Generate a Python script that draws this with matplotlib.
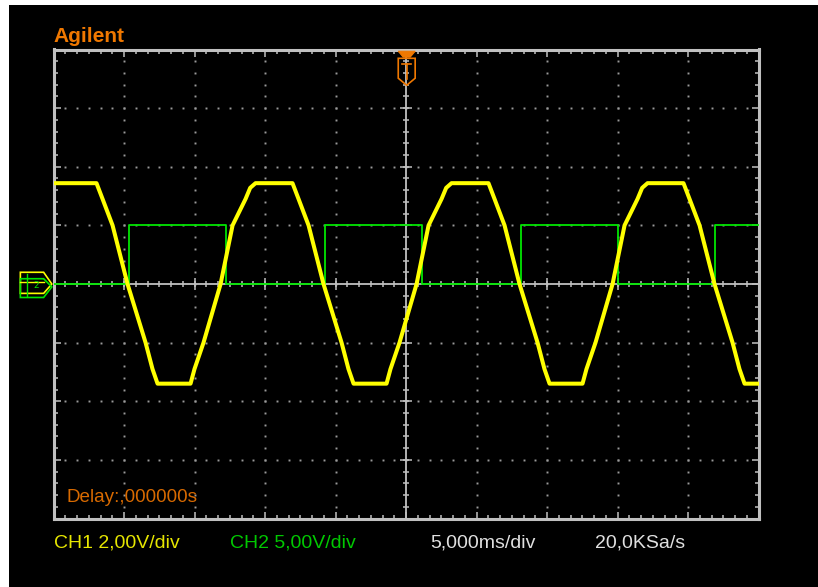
import matplotlib

matplotlib.use("Agg")
import matplotlib.pyplot as plt
import numpy as np
from matplotlib.patches import Polygon, Rectangle

# CH1 (yellow) trace, key points: time in ms, level in volts
CH1_TIME_MS = [
    0.00, 3.05, 3.48, 4.19, 5.25, 6.53, 7.02, 7.38, 9.72, 10.00, 10.64, 11.85, 12.70, 13.62, 13.95, 14.33,
    16.95, 17.38, 18.09, 19.15, 20.43, 20.92, 21.28, 23.62, 23.90, 24.54, 25.75, 26.60, 27.52, 27.85, 28.23,
    30.85, 31.28, 31.99, 33.05, 34.33, 34.82, 35.18, 37.52, 37.80, 38.44, 39.65, 40.50, 41.42, 41.75, 42.13,
    44.68, 45.11, 45.82, 46.88, 48.16, 48.65, 49.01, 50.00,
]
CH1_VOLTS = [
    3.44, 3.44, 2.90, 2.00, 0.00, -2.00, -2.90, -3.40, -3.40, -2.90, -2.00, 0.00, 2.00, 2.90, 3.28, 3.44,
    3.44, 2.90, 2.00, 0.00, -2.00, -2.90, -3.40, -3.40, -2.90, -2.00, 0.00, 2.00, 2.90, 3.28, 3.44,
    3.44, 2.90, 2.00, 0.00, -2.00, -2.90, -3.40, -3.40, -2.90, -2.00, 0.00, 2.00, 2.90, 3.28, 3.44,
    3.44, 2.90, 2.00, 0.00, -2.00, -2.90, -3.40, -3.40,
]

# CH2 (green) square wave: edge times in ms, level after each edge in volts
CH2_TIME_MS = [0.00, 5.32, 12.25, 19.29, 26.10, 33.19, 40.00, 46.95, 50.00]
CH2_VOLTS = [0.0, 5.0, 0.0, 5.0, 0.0, 5.0, 0.0, 5.0, 5.0]

CH1_VOLTS_PER_DIV = 2.0
CH2_VOLTS_PER_DIV = 5.0
MS_PER_DIV = 5.0
N_XDIV = 10
N_YDIV = 8

BRAND = "Agilent"
DELAY_LABEL = "Delay:,000000s"
CH1_LABEL = "CH1 2,00V/div"
CH2_LABEL = "CH2 5,00V/div"
TIMEBASE_LABEL = "5,000ms/div"
SAMPLE_LABEL = "20,0KSa/s"

YELLOW = "#ffff00"
GREEN = "#00e600"
ORANGE = "#f07800"
FRAME = "#c0c0c0"
DOT = "#9a9a9a"

W, H = 818, 587
fig = plt.figure(figsize=(W / 100, H / 100), dpi=100, facecolor="black")
# white margin strips along the top and left edge of the screenshot
fig.patches.append(Rectangle((0, 1 - 5 / H), 1, 5 / H, transform=fig.transFigure,
                             facecolor="white", edgecolor="none", zorder=-5))
fig.patches.append(Rectangle((0, 0), 9 / W, 1, transform=fig.transFigure,
                             facecolor="white", edgecolor="none", zorder=-5))

left, right, top, bottom = 53.5, 758.5, 49.5, 518.5
ax = fig.add_axes([left / W, 1 - bottom / H, (right - left) / W, (bottom - top) / H])
ax.set_facecolor("black")
xmax = N_XDIV * MS_PER_DIV
ax.set_xlim(0, xmax)
ax.set_ylim(-N_YDIV / 2, N_YDIV / 2)

for side in ax.spines.values():
    side.set_color(FRAME)
    side.set_linewidth(2.2)
ax.set_xticks(np.arange(0, xmax + 0.01, MS_PER_DIV))
ax.set_xticks(np.arange(0, xmax + 0.01, MS_PER_DIV / 6), minor=True)
ax.set_yticks(np.arange(-4, 4.01, 1))
ax.set_yticks(np.arange(-4, 4.01, 0.2), minor=True)
ax.tick_params(which="both", direction="in", top=True, right=True, color=FRAME,
               labelbottom=False, labelleft=False)
ax.tick_params(which="major", length=5, width=1.1)
ax.tick_params(which="minor", length=2.8, width=1.1)

# dotted graticule
ydots = np.arange(-3.8, 3.81, 0.2)
xdots = np.arange(MS_PER_DIV / 6, xmax - 0.01, MS_PER_DIV / 6)
for k in range(1, N_XDIV):
    if k == N_XDIV // 2:
        continue
    ax.plot(np.full_like(ydots, k * MS_PER_DIV), ydots, ls="none", marker="s", ms=1.4,
            mfc=DOT, mec="none", zorder=1)
for k in range(-3, 4):
    if k == 0:
        continue
    ax.plot(xdots, np.full_like(xdots, k), ls="none", marker="s", ms=1.4,
            mfc=DOT, mec="none", zorder=1)

# centre crosshair with ticks
xc = xmax / 2
ax.axvline(xc, color=FRAME, lw=1.3, zorder=1)
ax.axhline(0, color=FRAME, lw=1.3, zorder=1)
ax.plot(np.full_like(ydots, xc), ydots, ls="none", marker="_", ms=5, mew=1.1, color=FRAME, zorder=1)
ax.plot(xdots, np.zeros_like(xdots), ls="none", marker="|", ms=5, mew=1.1, color=FRAME, zorder=1)
majx = np.arange(MS_PER_DIV, xmax, MS_PER_DIV)
ax.plot(majx, np.zeros_like(majx), ls="none", marker="|", ms=8, mew=1.1, color=FRAME, zorder=1)
majy = np.arange(-3, 4, 1)
ax.plot(np.full_like(majy, xc, dtype=float), majy, ls="none", marker="_", ms=8, mew=1.1,
        color=FRAME, zorder=1)

# traces
ch1 = np.array(CH1_VOLTS) / CH1_VOLTS_PER_DIV
ch2 = np.array(CH2_VOLTS) / CH2_VOLTS_PER_DIV
ax.plot(CH2_TIME_MS, ch2, color=GREEN, lw=1.3, drawstyle="steps-post", zorder=3)
ax.plot(CH1_TIME_MS, ch1, color=YELLOW, lw=2.9, solid_joinstyle="round", zorder=4)

# trigger marker (top centre)
ax.add_patch(Polygon([(24.45, 3.85), (25.65, 3.85), (25.65, 3.51), (25.05, 3.39), (24.45, 3.51)],
                     closed=True, fill=False, ec=ORANGE, lw=1.2, clip_on=False, zorder=6))
ax.add_patch(Polygon([(24.45, 3.97), (25.65, 3.97), (25.3, 3.87), (24.8, 3.87)],
                     closed=True, fc=ORANGE, ec=ORANGE, lw=0.8, clip_on=False, zorder=6))
ax.plot([24.75, 25.35], [3.75, 3.75], color=ORANGE, lw=1.2, clip_on=False, zorder=6)
ax.plot([25.05, 25.05], [3.75, 3.5], color=ORANGE, lw=1.2, clip_on=False, zorder=6)

# ground markers (left)
ax.add_patch(Polygon([(-2.35, 0.20), (-0.7, 0.20), (-0.12, 0.0), (-0.7, -0.16), (-2.35, -0.16)],
                     closed=True, fill=False, ec=YELLOW, lw=1.2, clip_on=False, zorder=6))
ax.add_patch(Polygon([(-2.35, 0.09), (-0.7, 0.09), (-0.12, -0.05), (-0.7, -0.23), (-2.35, -0.23)],
                     closed=True, fill=False, ec=GREEN, lw=1.2, clip_on=False, zorder=6))
ax.plot([-2.35, -0.7], [0.03, 0.03], color=YELLOW, lw=1.0, clip_on=False, zorder=6)
ax.plot([-1.9, -1.9], [0.17, -0.2], color=GREEN, lw=1.0, clip_on=False, zorder=6)
ax.text(-1.25, -0.03, "2", color=GREEN, fontsize=6.5, ha="center", va="center",
        clip_on=False, zorder=7)

# texts
sans = ["Liberation Sans", "DejaVu Sans"]
fig.text(53 / W, 1 - 42 / H, BRAND, color=ORANGE, fontsize=15, fontweight="bold",
         family=sans, va="baseline")
fig.text(67 / W, 1 - 502 / H, DELAY_LABEL, color="#d86a00", fontsize=13.6, family=sans,
         va="baseline")
fig.text(54 / W, 1 - 548 / H, CH1_LABEL, color="#e6e600", fontsize=14, family=sans, va="baseline")
fig.text(230 / W, 1 - 548 / H, CH2_LABEL, color="#00c800", fontsize=14, family=sans, va="baseline")
fig.text(430 / W, 1 - 548 / H, TIMEBASE_LABEL, color="#e0e0e0", fontsize=14, family=sans,
         va="baseline")
fig.text(595 / W, 1 - 548 / H, SAMPLE_LABEL, color="#e0e0e0", fontsize=14, family=sans,
         va="baseline")

fig.savefig("out.png", dpi=100, facecolor=fig.get_facecolor())
